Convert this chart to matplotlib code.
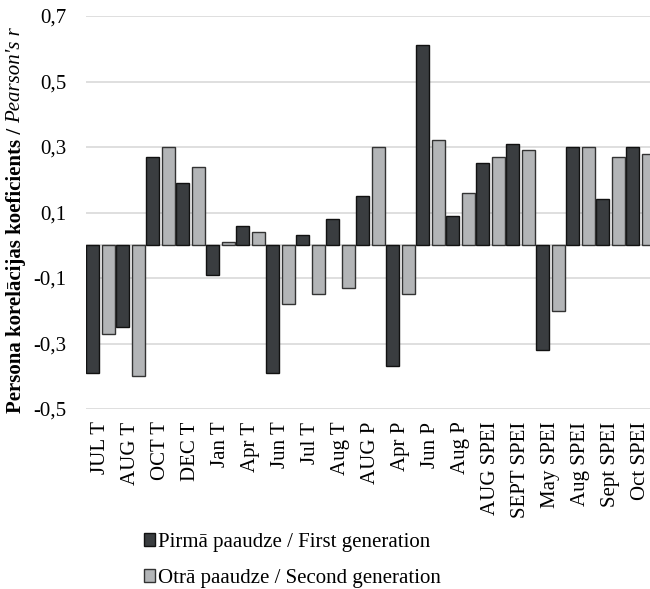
import matplotlib
matplotlib.use("Agg")
import matplotlib.pyplot as plt
import numpy as np
from matplotlib.patches import Patch

categories = ["JUL T", "AUG T", "OCT T", "DEC T", "Jan T", "Apr T", "Jun T", "Jul T",
              "Aug T", "AUG P", "Apr P", "Jun P", "Aug P", "AUG SPEI", "SEPT SPEI",
              "May SPEI", "Aug SPEI", "Sept SPEI", "Oct SPEI"]
first_gen = [-0.39, -0.25, 0.27, 0.19, -0.09, 0.06, -0.39, 0.03, 0.08, 0.15,
             -0.37, 0.61, 0.09, 0.25, 0.31, -0.32, 0.30, 0.14, 0.30]
second_gen = [-0.27, -0.40, 0.30, 0.24, 0.01, 0.04, -0.18, -0.15, -0.13, 0.30,
              -0.15, 0.32, 0.16, 0.27, 0.29, -0.20, 0.30, 0.27, 0.28]
yticks = [-0.5, -0.3, -0.1, 0.1, 0.3, 0.5, 0.7]
ytick_labels = ["-0,5", "-0,3", "-0,1", "0,1", "0,3", "0,5", "0,7"]
legend_labels = ["Pirmā paaudze / First generation", "Otrā paaudze / Second generation"]

plt.rcParams['font.family'] = ['Liberation Serif', 'DejaVu Serif']
FS = 15

W, H = 650, 589
fig = plt.figure(figsize=(W / 100, H / 100), dpi=100)
left_px, right_px = 85.5, 85.5 + 30 * 19
top_px, bot_px = 16, 409
ax = fig.add_axes([left_px / W, 1 - bot_px / H, (right_px - left_px) / W, (bot_px - top_px) / H])

dark = "#3a3d40"
light = "#b3b5b7"
x = np.arange(len(categories))
bw = 0.42
off = 0.27
ax.bar(x - off, first_gen, bw, color=dark, edgecolor="#111111", linewidth=1.0, zorder=3)
ax.bar(x + off, second_gen, bw, color=light, edgecolor="#333333", linewidth=1.0, zorder=3)

ax.set_xlim(-0.5, len(categories) - 0.5)
ax.set_ylim(-0.5, 0.7)
ax.set_yticks(yticks)
ax.set_yticklabels(ytick_labels, fontsize=FS)
ax.set_xticks(x)
ax.set_xticklabels(categories, rotation=90, fontsize=FS)
ax.tick_params(axis='both', length=0)
ax.tick_params(axis='y', pad=14)
ax.tick_params(axis='x', pad=9)
ax.grid(axis='y', color="#d9d9d9", linewidth=1.2, zorder=0)
ax.axhline(0, color="#cfcfcf", linewidth=1.2, zorder=2)
for s in ax.spines.values():
    s.set_visible(False)

# y label: bold part + italic part
t1 = fig.text(16 / W, 1 - 413 / H, "Persona korelācijas koeficients / ", rotation=90,
              fontsize=FS, fontweight='bold', ha='center', va='bottom')
fig.canvas.draw()
bb = t1.get_window_extent()
t2 = fig.text(16 / W, (bb.y1) / fig.bbox.height, "Pearson's r", rotation=90,
              fontsize=FS, fontstyle='italic', ha='center', va='bottom')

handles = [Patch(facecolor=dark, edgecolor="#111111", linewidth=1.0),
           Patch(facecolor=light, edgecolor="#333333", linewidth=1.0)]
fig.legend(handles, legend_labels, loc='upper left', bbox_to_anchor=(144 / W, 1 - 533 / H),
           frameon=False, fontsize=FS, ncol=1, handlelength=0.55, handleheight=0.55,
           handletextpad=0.1, labelspacing=0.8, borderaxespad=0, borderpad=0)

fig.savefig("out.png", dpi=100)
